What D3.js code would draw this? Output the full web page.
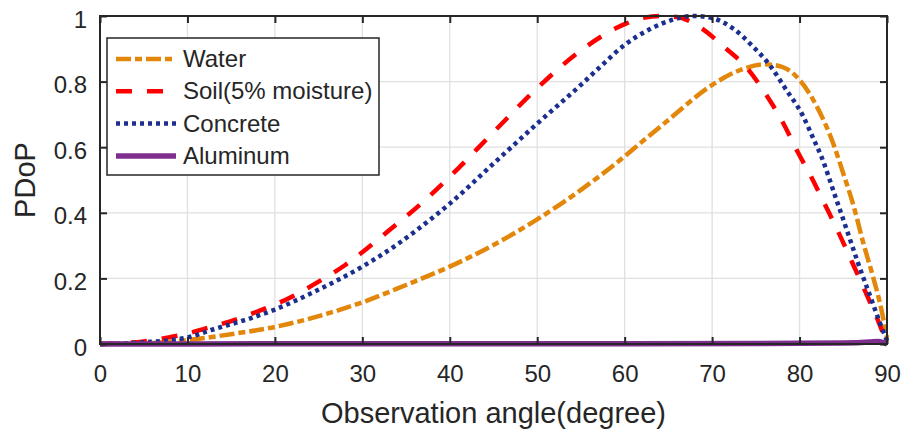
<!DOCTYPE html>
<meta charset="utf-8">
<script src="https://d3js.org/d3.v7.min.js"></script>
<style>
  body { margin: 0; background: #fff; }
  text { font-family: "Liberation Sans", Arial, sans-serif; fill: #262626; }
</style>
<div id="chart"></div>
<script>

// data (angle in degrees, PDoP)
var waterAngle = [0, 5, 10, 15, 20, 25, 30, 35, 40, 45, 50, 55, 60, 62, 65, 70, 73, 76, 78, 80, 82, 83.7, 85, 86.2, 87.3, 88.4, 89.2, 90];
var waterPdop  = [0, 0.002, 0.012, 0.03, 0.052, 0.085, 0.127, 0.18, 0.236, 0.302, 0.38, 0.47, 0.572, 0.617, 0.683, 0.79, 0.833, 0.853, 0.845, 0.805, 0.723, 0.622, 0.52, 0.419, 0.307, 0.205, 0.124, 0.02];

var soilAngle = [0, 5, 8, 10, 12, 15, 18.5, 20, 22, 25, 28, 30, 33, 36.6, 40, 45, 50, 55, 60, 62.3, 64, 66, 68.6, 71.4, 74, 76.2, 78, 79.7, 81.4, 83, 84.6, 86.1, 87.6, 89, 90];
var soilPdop  = [0, 0.008, 0.021, 0.032, 0.047, 0.07, 0.104, 0.12, 0.145, 0.19, 0.24, 0.28, 0.345, 0.425, 0.51, 0.646, 0.78, 0.895, 0.975, 0.995, 1.0, 0.997, 0.966, 0.905, 0.841, 0.759, 0.68, 0.59, 0.506, 0.42, 0.332, 0.244, 0.155, 0.07, 0];

var concAngle = [0, 5, 10, 13, 16.8, 20, 24.4, 30, 33.9, 37.7, 40, 45, 50, 55, 57.2, 60, 62.9, 65.4, 67.8, 70.1, 72.4, 74.7, 76.6, 78.5, 80.3, 81.6, 82.5, 84.1, 85.4, 86.7, 88.1, 89.2, 90];
var concPdop  = [0, 0.005, 0.02, 0.045, 0.075, 0.105, 0.158, 0.236, 0.302, 0.378, 0.428, 0.55, 0.672, 0.79, 0.845, 0.912, 0.96, 0.988, 1.0, 0.993, 0.962, 0.906, 0.85, 0.774, 0.70, 0.625, 0.571, 0.449, 0.348, 0.246, 0.144, 0.064, 0.01];

var aluAngle = [0, 20, 40, 60, 80, 85, 88, 89, 90];
var aluPdop  = [0, 0.0005, 0.001, 0.001, 0.002, 0.003, 0.006, 0.008, 0];

var xTicks = [0, 10, 20, 30, 40, 50, 60, 70, 80, 90];
var yTicks = [0, 0.2, 0.4, 0.6, 0.8, 1];

var series = [
  {name: "Water",              angle: waterAngle, pdop: waterPdop, color: "#e3870b", width: 4.5, dash: "15,4,7,4"},
  {name: "Soil(5% moisture)",  angle: soilAngle,  pdop: soilPdop,  color: "#ff0000", width: 4.5, dash: "16,15"},
  {name: "Concrete",           angle: concAngle,  pdop: concPdop,  color: "#1b2f8f", width: 4.5, dash: "4,4"},
  {name: "Aluminum",           angle: aluAngle,   pdop: aluPdop,   color: "#7e2f8e", width: 5.5, dash: null}
];

var margin = {top: 16, right: 15, bottom: 86, left: 100},
    width = 902 - margin.left - margin.right,
    height = 430 - margin.top - margin.bottom;

var svg = d3.select("#chart")
  .append("svg")
    .attr("width", 902)
    .attr("height", 430)
  .append("g")
    .attr("transform", "translate(" + margin.left + "," + margin.top + ")");

var x = d3.scaleLinear().domain([0, 90]).range([0, width]);
var y = d3.scaleLinear().domain([0, 1]).range([height, 0]);

// grid
var grid = svg.append("g").attr("stroke", "#e0e0e0").attr("stroke-width", 1.3);
grid.selectAll(".vgrid").data(xTicks.slice(1, -1)).enter().append("line")
  .attr("x1", function(d) { return x(d); }).attr("x2", function(d) { return x(d); })
  .attr("y1", 0).attr("y2", height);
grid.selectAll(".hgrid").data(yTicks.slice(1, -1)).enter().append("line")
  .attr("x1", 0).attr("x2", width)
  .attr("y1", function(d) { return y(d); }).attr("y2", function(d) { return y(d); });

// curves
var line = d3.line()
  .x(function(d) { return x(d[0]); })
  .y(function(d) { return y(d[1]); })
  .curve(d3.curveMonotoneX);

series.forEach(function(s) {
  svg.append("path")
    .datum(s.angle.map(function(a, i) { return [a, s.pdop[i]]; }))
    .attr("fill", "none")
    .attr("stroke", s.color)
    .attr("stroke-width", s.width)
    .attr("stroke-dasharray", s.dash)
    .attr("d", line);
});

// axes (ticks pointing inward, on all four sides)
function styleAxis(g) {
  g.select(".domain").remove();
  g.selectAll(".tick line").attr("stroke", "#262626").attr("stroke-width", 2);
  g.selectAll(".tick text").attr("font-size", 24).attr("fill", "#262626")
    .style("font-family", "'Liberation Sans', Arial, sans-serif");
}

svg.append("g")
  .attr("transform", "translate(0," + height + ")")
  .call(d3.axisBottom(x).tickValues(xTicks).tickSize(-7).tickPadding(21).tickFormat(d3.format("d")))
  .call(styleAxis);

svg.append("g")
  .call(d3.axisLeft(y).tickValues(yTicks).tickSize(-7).tickPadding(13).tickFormat(function(d) { return d === 0 || d === 1 ? d : d3.format(".1f")(d); }))
  .call(styleAxis)
  .selectAll(".tick text").attr("dy", "0.46em");

svg.append("g")
  .call(d3.axisTop(x).tickValues(xTicks).tickSize(-7).tickFormat(""))
  .call(styleAxis);

svg.append("g")
  .attr("transform", "translate(" + width + ",0)")
  .call(d3.axisRight(y).tickValues(yTicks).tickSize(-7).tickFormat(""))
  .call(styleAxis);

// box
svg.append("rect")
  .attr("width", width).attr("height", height)
  .attr("fill", "none").attr("stroke", "#262626").attr("stroke-width", 2);

// axis titles
svg.append("text")
  .attr("x", width / 2).attr("y", height + 79)
  .attr("text-anchor", "middle").attr("font-size", 29)
  .text("Observation angle(degree)");

svg.append("text")
  .attr("transform", "translate(" + (35 - margin.left) + "," + (height / 2) + ") rotate(-90)")
  .attr("text-anchor", "middle").attr("font-size", 29)
  .text("PDoP");

// legend
var legend = svg.append("g").attr("transform", "translate(" + (107 - margin.left) + "," + (38 - margin.top) + ")");
legend.append("rect")
  .attr("width", 272).attr("height", 137)
  .attr("fill", "#fff").attr("stroke", "#262626").attr("stroke-width", 1.5);

var rows = legend.selectAll(".row").data(series).enter().append("g")
  .attr("transform", function(d, i) { return "translate(0," + (21 + i * 32.3) + ")"; });
rows.append("line")
  .attr("x1", 9).attr("x2", 69)
  .attr("stroke", function(d) { return d.color; })
  .attr("stroke-width", function(d) { return d.width; })
  .attr("stroke-dasharray", function(d) { return d.dash; });
rows.append("text")
  .attr("x", 76).attr("y", 8)
  .attr("font-size", 24)
  .text(function(d) { return d.name; });

</script>
